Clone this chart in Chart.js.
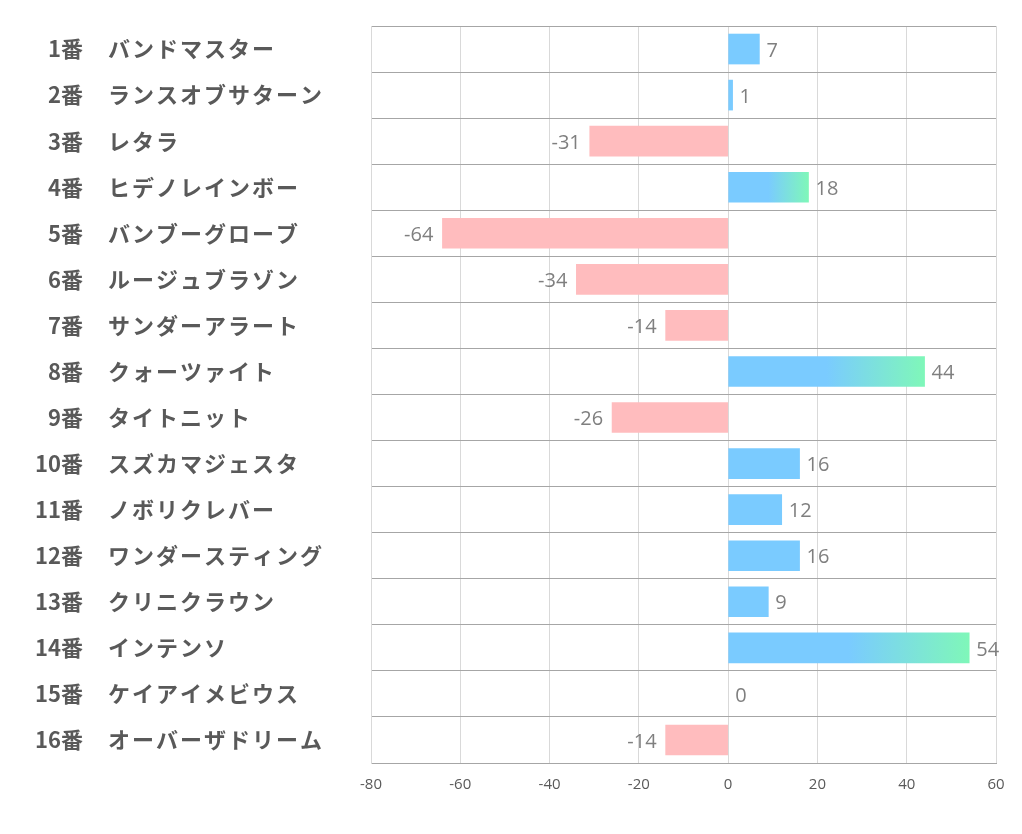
<!DOCTYPE html>
<html>
<head>
<meta charset="utf-8">
<script src="https://cdn.jsdelivr.net/npm/chart.js@4/dist/chart.umd.min.js"></script>
<style>
  html, body { margin: 0; padding: 0; background: #fff; }
  #wrap { width: 1022px; height: 834px; }
</style>
</head>
<body>
<div id="wrap"><canvas id="grafik" width="1022" height="834"></canvas></div>
<script>
// === DATA ===
const umaban = ["1番", "2番", "3番", "4番", "5番", "6番", "7番", "8番",
  "9番", "10番", "11番", "12番", "13番", "14番", "15番", "16番"];
const namaKuda = ["バンドマスター", "ランスオブサターン", "レタラ", "ヒデノレインボー",
  "バンブーグローブ", "ルージュブラゾン", "サンダーアラート", "クォーツァイト",
  "タイトニット", "スズカマジェスタ", "ノボリクレバー", "ワンダースティング",
  "クリニクラウン", "インテンソ", "ケイアイメビウス", "オーバーザドリーム"];
const nilai = [7, 1, -31, 18, -64, -34, -14, 44, -26, 16, 12, 16, 9, 54, 0, -14];
const xTicks = [-80, -60, -40, -20, 0, 20, 40, 60];

const BIRU = "#7acbff";
const HIJAU = "#7ff7b9";
const MERAH = "#ffbcbe";

// warna bar: gradien untuk nilai besar
function warnaBar(c) {
  const v = nilai[c.dataIndex];
  if (v === 0) return "rgba(0,0,0,0)";
  if (v < 0) return MERAH;
  if (v < 18) return BIRU;
  const chart = c.chart;
  const area = chart.chartArea;
  if (!area) return BIRU;
  const x0 = chart.scales.x.getPixelForValue(0);
  const x1 = chart.scales.x.getPixelForValue(v);
  const g = chart.ctx.createLinearGradient(x0, 0, x1, 0);
  g.addColorStop(0, BIRU);
  g.addColorStop(0.5, BIRU);
  g.addColorStop(1, HIJAU);
  return g;
}

// label kiri + angka di ujung bar
const labelPlugin = {
  id: "labelKuda",
  afterDatasetsDraw(chart) {
    const ctx = chart.ctx;
    const ys = chart.scales.y;
    ctx.save();
    ctx.textBaseline = "middle";
    ctx.font = 'bold 22px "Noto Sans CJK JP"';
    ctx.fillStyle = "#595959";
    umaban.forEach((u, i) => {
      const py = ys.getPixelForValue(i);
      ctx.letterSpacing = "0px";
      ctx.textAlign = "right";
      ctx.fillText(u, 83, py);
      ctx.letterSpacing = "2px";
      ctx.textAlign = "left";
      ctx.fillText(namaKuda[i], 108, py);
    });
    ctx.letterSpacing = "0px";
    // angka
    ctx.font = '20px "Open Sans"';
    ctx.fillStyle = "#7f7f7f";
    const meta = chart.getDatasetMeta(0);
    meta.data.forEach((bar, i) => {
      const v = nilai[i];
      const py = bar.y + 2;
      if (v < 0) {
        ctx.textAlign = "right";
        ctx.fillText(String(v), bar.x - 9, py);
      } else {
        ctx.textAlign = "left";
        ctx.fillText(String(v), bar.x + 7, py);
      }
    });
    ctx.restore();
  }
};

new Chart(document.getElementById("grafik"), {
  type: "bar",
  data: {
    labels: umaban,
    datasets: [{
      data: nilai,
      backgroundColor: warnaBar,
      barThickness: 30,
      borderWidth: 0
    }]
  },
  options: {
    indexAxis: "y",
    responsive: false,
    animation: false,
    layout: { padding: { top: 26, right: 26, left: 0, bottom: 0 } },
    plugins: { legend: { display: false }, tooltip: { enabled: false } },
    scales: {
      x: {
        min: -80,
        max: 60,
        afterBuildTicks(s) { s.ticks = xTicks.map(v => ({ value: v })); },
        afterFit(s) { s.height = 71; },
        ticks: {
          color: "#595959",
          font: { family: "Open Sans", size: 15 },
          padding: 13
        },
        grid: { color: "#d9d9d9", drawTicks: false },
        border: { color: "#a6a6a6", width: 1 }
      },
      y: {
        afterFit(s) { s.width = 371; },
        ticks: { display: false },
        grid: { color: "#a6a6a6", drawTicks: false, offset: true },
        border: { color: "#d9d9d9" }
      }
    }
  },
  plugins: [labelPlugin]
});
</script>
</body>
</html>
